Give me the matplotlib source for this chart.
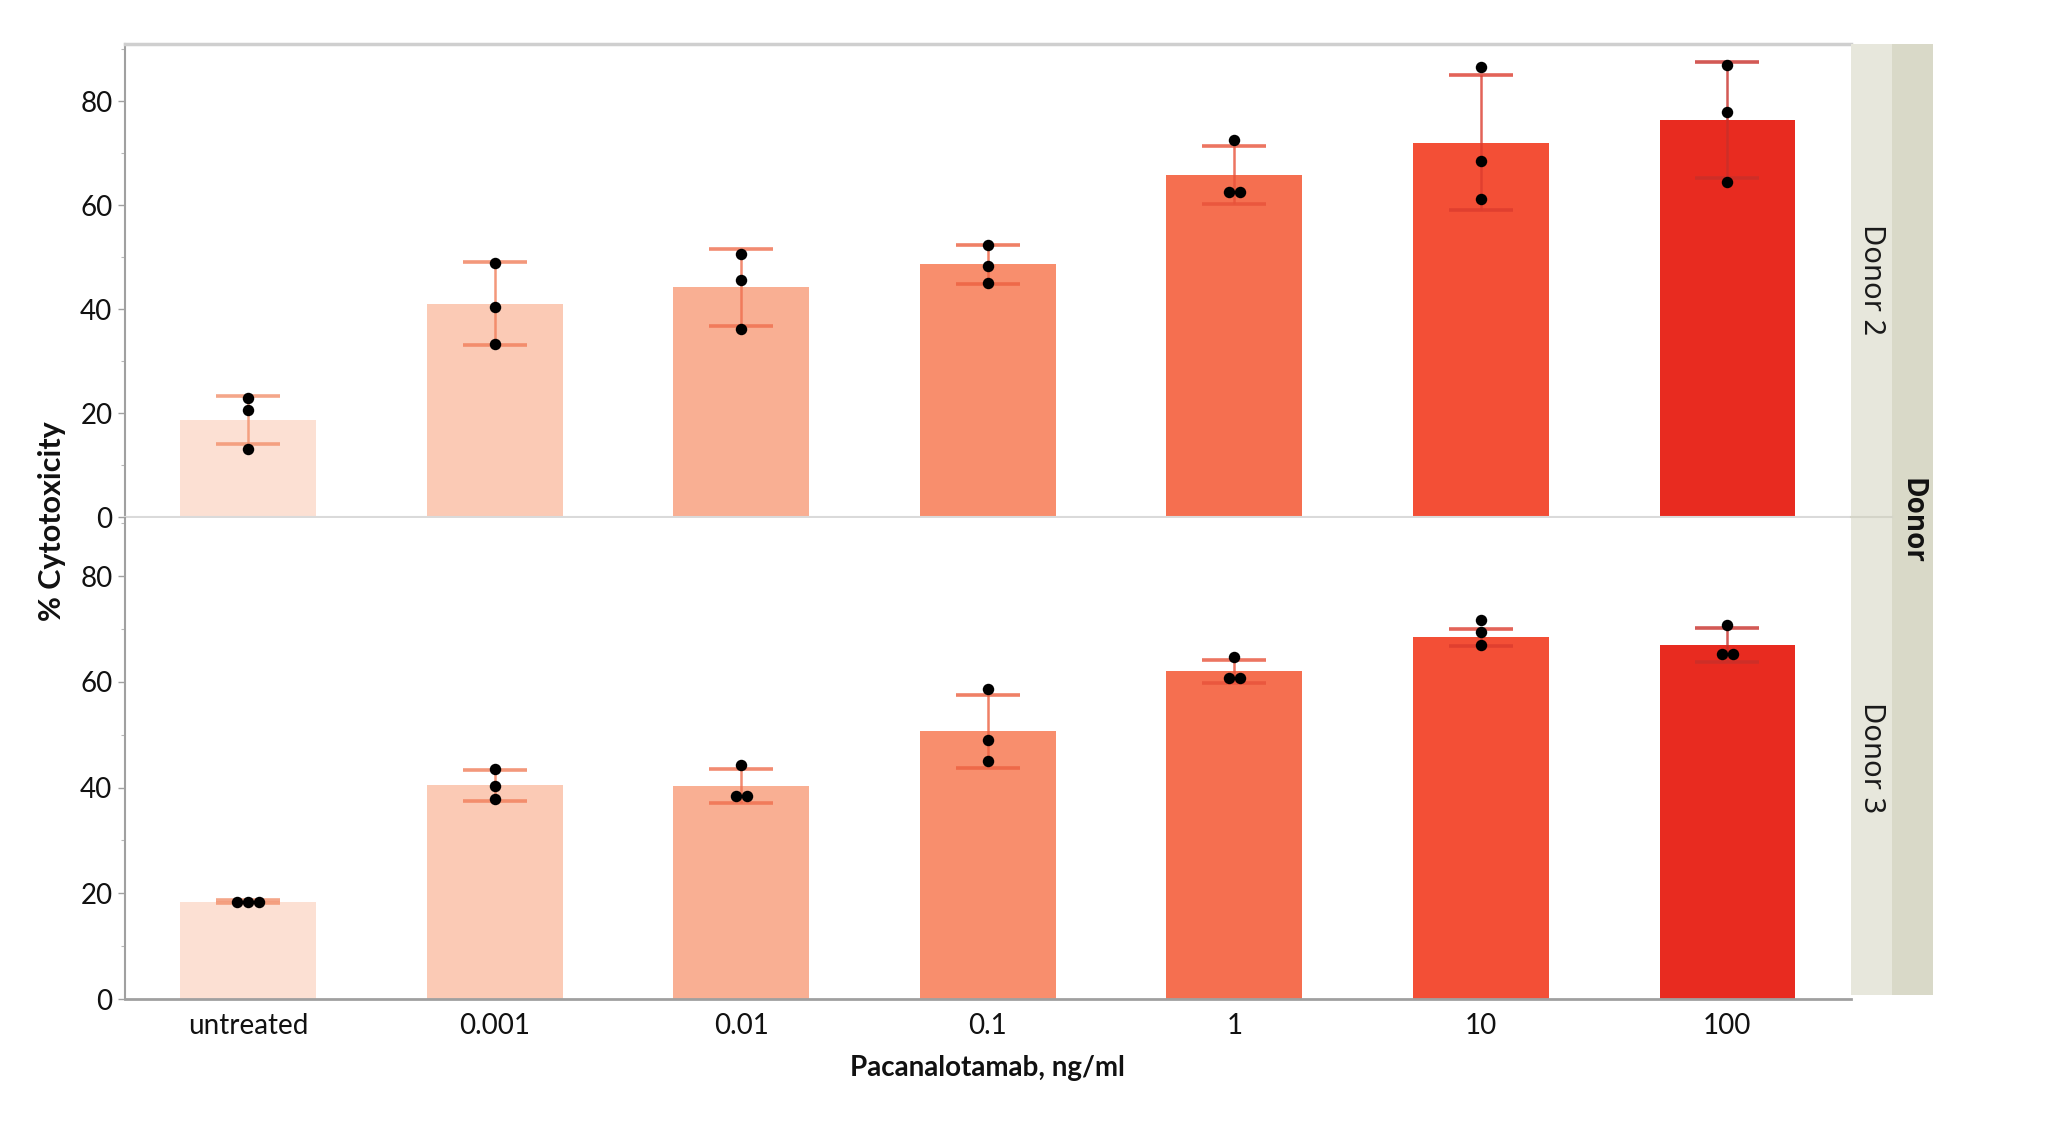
import numpy as np
import matplotlib.pyplot as plt
from matplotlib.patches import Rectangle
from matplotlib.ticker import MultipleLocator

plt.rcParams['font.family'] = ['Lato', 'DejaVu Sans']

doses = ['untreated', '0.001', '0.01', '0.1', '1', '10', '100']
donors = ['Donor 2', 'Donor 3']

# Donor 2 (top panel)
donor2_mean = [18.7, 41.0, 44.2, 48.6, 65.8, 72.0, 76.4]
donor2_sd = [4.6, 8.0, 7.4, 3.7, 5.6, 13.0, 11.2]
donor2_points = [[22.9, 20.5, 13.1],
                 [48.9, 40.5, 33.3],
                 [50.7, 45.6, 36.2],
                 [52.4, 48.3, 45.0],
                 [72.5, 62.5, 62.5],
                 [86.5, 68.5, 61.1],
                 [86.9, 78.0, 64.5]]

# Donor 3 (bottom panel)
donor3_mean = [18.4, 40.4, 40.3, 50.7, 62.0, 68.4, 66.9]
donor3_sd = [0.3, 2.9, 3.2, 6.9, 2.2, 1.6, 3.2]
donor3_points = [[18.4, 18.4, 18.4],
                 [43.6, 40.3, 37.8],
                 [44.3, 38.5, 38.5],
                 [58.6, 49.0, 45.1],
                 [64.7, 60.7, 60.7],
                 [71.8, 69.5, 67.0],
                 [70.8, 65.2, 65.2]]

bar_colors = ['#fce0d3', '#fbcab5', '#f9af93', '#f88e6d', '#f56f50', '#f34f36', '#e82b20']
err_colors = ['#f2906c', '#f17e5a', '#ef6e4e', '#ec6040', '#e8523a', '#dc3c2e', '#c8302a']


def spread(vals, step=0.044):
    # put tied values side by side
    offs = np.zeros(len(vals))
    for v in set(vals):
        idx = [i for i, x in enumerate(vals) if x == v]
        n = len(idx)
        for k, i in enumerate(idx):
            offs[i] = (k - (n - 1) / 2) * step
    return offs


fig = plt.figure(figsize=(20.48, 11.21), dpi=100)
fig.set_facecolor('white')

left, right = 0.061, 0.9036
ax_top = fig.add_axes([left, 0.5388, right - left, 0.4219])
ax_bot = fig.add_axes([left, 0.1088, right - left, 0.4291])

panels = [(ax_top, donor2_mean, donor2_sd, donor2_points),
          (ax_bot, donor3_mean, donor3_sd, donor3_points)]

x = np.arange(len(doses))
for ax, means, sds, pts in panels:
    ax.bar(x, means, width=0.55, color=bar_colors, zorder=2)
    for i in range(len(doses)):
        ax.errorbar(x[i], means[i], yerr=sds[i], fmt='none', ecolor=err_colors[i],
                    elinewidth=1.8, capsize=23, capthick=2.6, alpha=0.8, zorder=3)
        offs = spread(pts[i])
        ax.scatter(x[i] + offs, pts[i], s=68, color='black', zorder=4, linewidths=0)
    ax.set_xlim(-0.5, 6.5)
    ax.set_ylim(0, 91)
    ax.yaxis.set_major_locator(MultipleLocator(20))
    ax.yaxis.set_minor_locator(MultipleLocator(10))
    ax.tick_params(axis='y', which='major', length=5, width=1, color='#a0a0a0',
                   labelsize=20, pad=4, labelcolor='#111111')
    ax.tick_params(axis='y', which='minor', length=3, width=0.8, color='#b8b8b8')
    ax.spines['right'].set_visible(False)
    ax.spines['left'].set_color('#a0a0a0')
    ax.spines['left'].set_linewidth(1.5)

ax_top.spines['top'].set_color('#cfcfcf')
ax_top.spines['top'].set_linewidth(2.5)
ax_top.spines['bottom'].set_color('#dadada')
ax_top.spines['bottom'].set_linewidth(1.5)
ax_top.set_xticks([])

ax_bot.spines['top'].set_visible(False)
ax_bot.spines['bottom'].set_color('#a0a0a0')
ax_bot.spines['bottom'].set_linewidth(2)
ax_bot.set_xticks(x)
ax_bot.set_xticklabels(doses)
ax_bot.tick_params(axis='x', length=0, labelsize=20, pad=10, labelcolor='#111111')

# strips on the right
fig.patches.append(Rectangle((0.9036, 0.112), 0.0201, 0.849, transform=fig.transFigure,
                             facecolor='#e7e7dc', edgecolor='none'))
fig.patches.append(Rectangle((0.9237, 0.112), 0.0202, 0.849, transform=fig.transFigure,
                             facecolor='#d9d9c8', edgecolor='none'))
fig.lines.append(plt.Line2D([0.9036, 0.9237], [0.5385, 0.5385], transform=fig.transFigure,
                            color='#d4d4c8', lw=1.5))
fig.text(0.9137, 1 - 280 / 1121, donors[0], rotation=-90, ha='center', va='center',
         fontsize=21, family='Noto Sans', color='#1a1a1a')
fig.text(0.9137, 1 - 758 / 1121, donors[1], rotation=-90, ha='center', va='center',
         fontsize=21, family='Noto Sans', color='#1a1a1a')
fig.text(0.9338, 1 - 521 / 1121, 'Donor', rotation=-90, ha='center', va='center',
         fontsize=20, family='Open Sans', fontweight='bold', color='#111111')

fig.text(0.0254, 1 - 521 / 1121, '% Cytotoxicity', rotation=90, ha='center', va='center',
         fontsize=22, fontweight='bold', color='#111111')
fig.text((left + right) / 2, 1 - 1068 / 1121, 'Pacanalotamab, ng/ml', ha='center', va='center',
         fontsize=20, fontweight='bold', color='#111111')

fig.savefig('out.png', dpi=100)
